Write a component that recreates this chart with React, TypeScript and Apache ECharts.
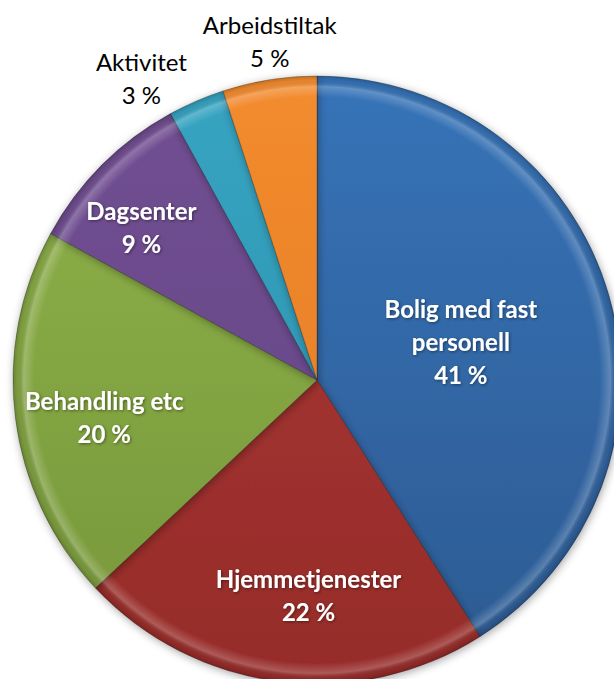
import React, { useEffect, useRef } from "react";
import * as echarts from "echarts";

const categories = [
  "Bolig med fast\npersonell",
  "Hjemmetjenester",
  "Behandling etc",
  "Dagsenter",
  "Aktivitet",
  "Arbeidstiltak",
];
const values = [41, 22, 20, 9, 3, 5];

const topColors = ["#3673B8", "#AA3633", "#90B34A", "#714F92", "#36A4C2", "#F38B2E"];
const bottomColors = ["#2D5A91", "#962C2A", "#76963A", "#644585", "#2C8FAA", "#E07A22"];
const insideLabel = [true, true, true, true, false, false];
// label nudges (px) relative to ECharts' inside label position
const labelShift: [number, number][] = [
  [-5, 5],
  [11, 61],
  [-59, 18],
  [-66, -43],
  [-114, -160],
  [-23, -186],
];

const CX = 317;
const CY = 380;
const R = 304;

export default function App() {
  const ref = useRef<HTMLDivElement>(null);
  useEffect(() => {
    if (!ref.current) return;
    const chart = echarts.init(ref.current, null, { renderer: "svg" });
    const data = categories.map((name, i) => ({
      name,
      value: values[i],
      itemStyle: {
        color: {
          type: "linear",
          x: 0,
          y: CY - R,
          x2: 0,
          y2: CY + R,
          global: true,
          colorStops: [
            { offset: 0, color: topColors[i] },
            { offset: 1, color: bottomColors[i] },
          ],
        },
      },
      label: insideLabel[i]
        ? {
            color: "#ffffff",
            fontWeight: "bold",
            textShadowColor: "rgba(0,0,0,0.45)",
            textShadowBlur: 3,
            textShadowOffsetX: 1,
            textShadowOffsetY: 1,
          }
        : {
            color: "#000000",
            fontWeight: "normal",
          },
    }));
    chart.setOption({
      animation: false,
      backgroundColor: "#ffffff",
      series: [
        {
          type: "pie",
          center: [CX, CY],
          radius: [0, R],
          startAngle: 90,
          clockwise: true,
          avoidLabelOverlap: false,
          silent: true,
          data,
          itemStyle: {
            borderColor: "rgba(0,0,0,0.25)",
            borderWidth: 1,
            shadowBlur: 8,
            shadowColor: "rgba(0,0,0,0.35)",
            shadowOffsetX: 1,
            shadowOffsetY: 2,
          },
          label: {
            show: true,
            position: "inside",
            formatter: (p: any) => `${p.name}\n${p.value} %`,
            fontFamily: "Lato",
            fontSize: 24,
            lineHeight: 33,
            align: "center",
          },
          labelLine: { show: false },
          labelLayout: (p: any) => ({
            dx: labelShift[p.dataIndex][0],
            dy: labelShift[p.dataIndex][1],
          }),
          z: 1,
        },
        {
          type: "pie",
          center: [CX, CY],
          radius: [R - 22, R],
          startAngle: 90,
          clockwise: true,
          silent: true,
          data: categories.map((name, i) => ({ name, value: values[i] })),
          label: { show: false },
          labelLine: { show: false },
          itemStyle: {
            borderWidth: 0,
            color: {
              type: "radial",
              x: CX,
              y: CY,
              r: R,
              global: true,
              colorStops: [
                { offset: 0, color: "rgba(255,255,255,0)" },
                { offset: 0.93, color: "rgba(255,255,255,0)" },
                { offset: 0.965, color: "rgba(255,255,255,0.22)" },
                { offset: 0.985, color: "rgba(0,0,0,0.05)" },
                { offset: 1, color: "rgba(0,0,0,0.2)" },
              ],
            },
          },
          z: 2,
        },
      ],
    });
    return () => chart.dispose();
  }, []);
  return (
    <div
      ref={ref}
      style={{ position: "absolute", left: 0, top: 0, width: 614, height: 679 }}
    />
  );
}
